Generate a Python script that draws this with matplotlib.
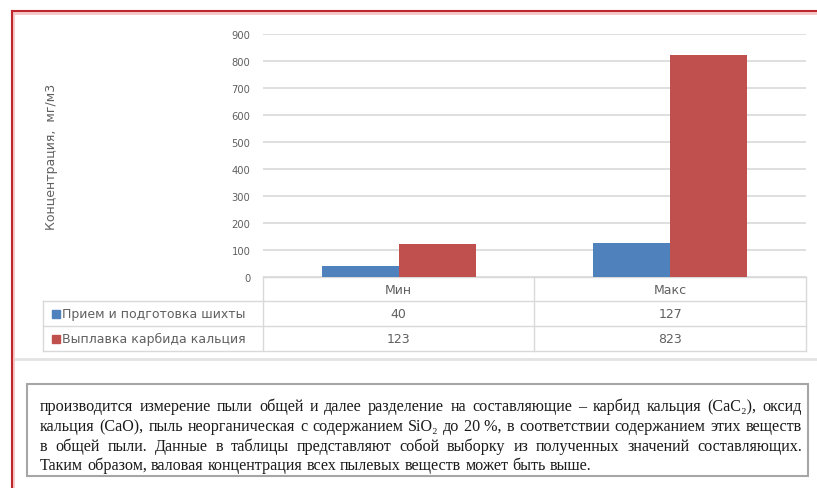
import numpy as np
import matplotlib
matplotlib.use("Agg")
import matplotlib.pyplot as plt
from matplotlib.patches import Rectangle

# Data
categories = ['Мин', 'Макс']
series_names = ['Прием и подготовка шихты', 'Выплавка карбида кальция']
priem = [40, 127]
vyplavka = [123, 823]
series_colors = ['#4F81BD', '#C0504D']
y_ticks = list(range(0, 1000, 100))
y_label = 'Концентрация,  мг/м3'

paragraph = [
    'производится измерение пыли общей и далее разделение на составляющие – карбид кальция (CaC₂), оксид',
    'кальция (CaO), пыль неорганическая с содержанием SiO₂ до 20\u00a0%, в соответствии содержанием этих веществ',
    'в общей пыли. Данные в таблицы представляют собой выборку из полученных значений составляющих.',
    'Таким образом, валовая концентрация всех пылевых веществ может быть выше.',
]

W, H = 817, 489
grey_txt = '#606060'
grid_col = '#D9D9D9'
chart_font = ['DejaVu Sans']
serif_font = ['Liberation Serif', 'DejaVu Serif']
lab_fs = 9.0

fig = plt.figure(figsize=(W / 100, H / 100), dpi=100)

# overlay in pixel coordinates for the frame, table and paragraph
ov = fig.add_axes([0, 0, 1, 1], zorder=0)
ov.set_xlim(0, W)
ov.set_ylim(H, 0)
ov.axis('off')

# chart
ax = fig.add_axes([263 / W, 1 - 278 / H, 543 / W, 243 / H], zorder=1)
ax.patch.set_alpha(0)
x = np.arange(len(categories))
bw = 0.284
ax.bar(x - bw / 2, priem, bw, color=series_colors[0], zorder=3)
ax.bar(x + bw / 2, vyplavka, bw, color=series_colors[1], zorder=3)
ax.set_xlim(-0.5, len(categories) - 0.5)
ax.set_ylim(0, 900)
ax.set_yticks(y_ticks)
ax.set_xticks([])
ax.yaxis.grid(True, color=grid_col, lw=1.2, zorder=0)
ax.tick_params(axis='y', length=0, pad=9, labelsize=7.2, labelcolor=grey_txt)
for lab in ax.get_yticklabels():
    lab.set_family(chart_font)
for s in ax.spines.values():
    s.set_visible(False)

# y label
ov.text(52, 157, y_label, rotation=90, ha='center', va='center',
        fontsize=lab_fs, color=grey_txt, family=chart_font)

# table under the chart
fig.canvas.draw()
to_px = lambda xv: ax.transData.transform((xv, 0))[0]
col_edges = [to_px(i - 0.5) for i in range(len(categories))] + [to_px(len(categories) - 0.5)]
col_centers = [to_px(i) for i in range(len(categories))]
left_col = 43
rows_y = [278, 302, 327, 352]
lw_tab = 1.0

ov.plot([col_edges[0], col_edges[-1]], [rows_y[0]] * 2, color=grid_col, lw=lw_tab)
for yy in rows_y[1:]:
    ov.plot([left_col, col_edges[-1]], [yy, yy], color=grid_col, lw=lw_tab)
ov.plot([left_col, left_col], [rows_y[1], rows_y[-1]], color=grid_col, lw=lw_tab)
for xe in col_edges:
    ov.plot([xe, xe], [rows_y[0], rows_y[-1]], color=grid_col, lw=lw_tab)

for cx, cat in zip(col_centers, categories):
    ov.text(cx, (rows_y[0] + rows_y[1]) / 2, cat, ha='center', va='center',
            fontsize=lab_fs, color=grey_txt, family=chart_font)

for r, (name, vals, col) in enumerate(zip(series_names, [priem, vyplavka], series_colors)):
    yc = (rows_y[r + 1] + rows_y[r + 2]) / 2
    ov.add_patch(Rectangle((52, yc - 4), 8, 8, color=col))
    ov.text(62, yc, name, ha='left', va='center', fontsize=lab_fs,
            color=grey_txt, family=chart_font)
    for cx, v in zip(col_centers, vals):
        ov.text(cx, yc, str(v), ha='center', va='center', fontsize=lab_fs,
                color=grey_txt, family=chart_font)

# separator and red frame
ov.plot([12, W], [360, 360], color='#E3E3E3', lw=2)
ov.plot([12, W], [13.5, 13.5], color='#F5C6C6', lw=2)
ov.plot([13.5, 13.5], [12, H], color='#F5C6C6', lw=2)
ov.plot([12, W], [12, 12], color='#C0272D', lw=1.5)
ov.plot([12, 12], [12, H], color='#C0272D', lw=1.5)

# text box with justified paragraph
ov.add_patch(Rectangle((27, 385), 781, 92, fill=False, ec='#A6A6A6', lw=1.5))
renderer = fig.canvas.get_renderer()
tx_left, tx_right = 40, 802
line_y = [407, 427, 447, 466]
fs = 11.6
for k, (line, yy) in enumerate(zip(paragraph, line_y)):
    words = line.split(' ')
    objs = [ov.text(0, yy, w_, ha='left', va='center', fontsize=fs,
                    color='#1A1A1A', family=serif_font) for w_ in words]
    widths = [o.get_window_extent(renderer).width for o in objs]
    if k < len(paragraph) - 1:
        gap = (tx_right - tx_left - sum(widths)) / (len(words) - 1)
    else:
        sp = ov.text(0, yy, 'a a', fontsize=fs, family=serif_font)
        aa = ov.text(0, yy, 'aa', fontsize=fs, family=serif_font)
        gap = sp.get_window_extent(renderer).width - aa.get_window_extent(renderer).width
        sp.remove()
        aa.remove()
    xpos = tx_left
    for o, wd in zip(objs, widths):
        o.set_x(xpos)
        xpos += wd + gap

fig.savefig('out.png', dpi=100, facecolor='white')
